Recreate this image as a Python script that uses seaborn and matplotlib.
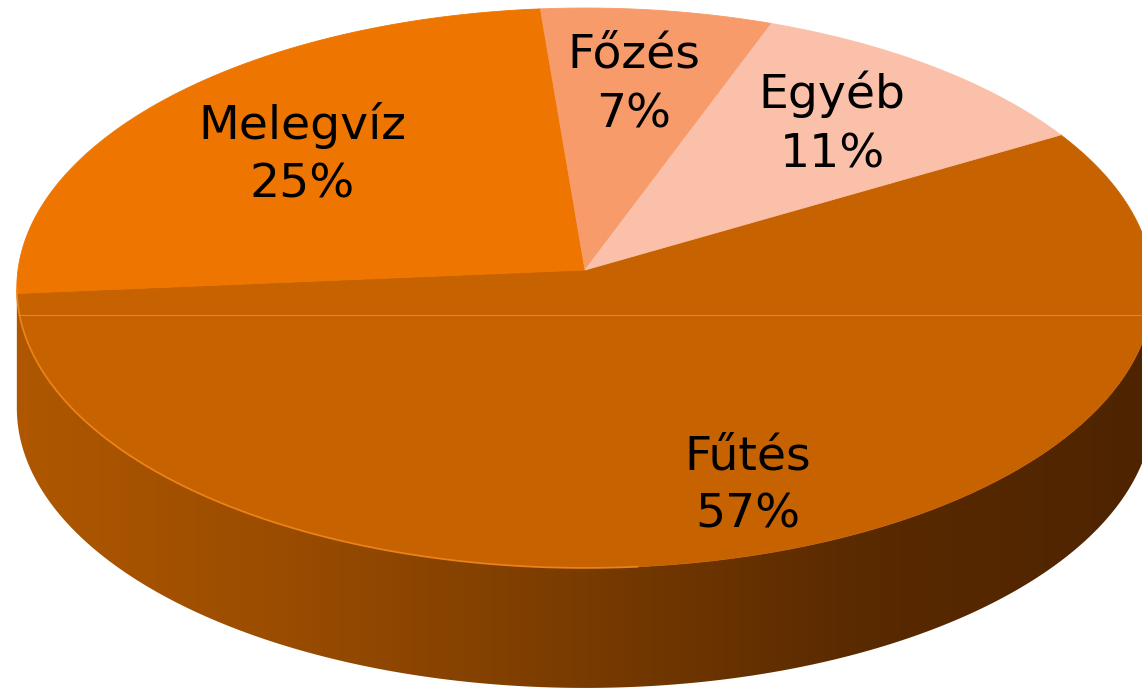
import numpy as np
import matplotlib
matplotlib.use("Agg")
import matplotlib.pyplot as plt
from matplotlib.patches import Polygon
import seaborn as sns

# data
categories = ["Fűtés", "Melegvíz", "Főzés", "Egyéb"]
values = [57, 25, 7, 11]
slice_colors = ["#C66200", "#EE7600", "#F79B6A", "#FAC0AA"]

# label placement (baselines of the two lines, pixel coords)
label_pos = [(748, 470, 527), (302, 139, 198), (634, 68, 127), (832, 108, 168)]

# pie geometry (pixels) with a little perspective
cx, cy = 585, 270
A, B, p = 567, 278.8, 0.0642
depth = 120
start_angle = 30.0

sns.set_theme(style="white")
plt.rcParams['font.family'] = ['DejaVu Sans']


def ell(phi_deg):
    t = np.radians(phi_deg)
    k = 1 + p * np.sin(t)
    return cx + A * np.cos(t) / k, cy - B * np.sin(t) / k


fig = plt.figure(figsize=(11.42, 6.89), dpi=100)
ax = fig.add_axes([0, 0, 1, 1])
ax.set_xlim(0, 1142)
ax.set_ylim(689, 0)
ax.axis("off")

# side of the cylinder
phiL = 180 + np.degrees(np.arcsin(p))
phiR = 360 - np.degrees(np.arcsin(p))
ph = np.linspace(phiL, phiR, 400)
xt, yt = ell(ph)
side = np.vstack([np.column_stack([xt, yt]),
                  np.column_stack([xt[::-1], yt[::-1] + depth])])
side_patch = Polygon(side, closed=True, facecolor="none", edgecolor="none",
                     transform=ax.transData)
ax.add_patch(side_patch)
side_cmap = sns.blend_palette(["#B05800", "#9A4C00", "#7A3C00", "#5A2A00", "#4E2400"],
                              as_cmap=True)
grad = np.linspace(0, 1, 600).reshape(1, -1)
im = ax.imshow(grad, cmap=side_cmap, extent=[0, 1142, 689, 0], aspect="auto", zorder=1)
im.set_clip_path(side_patch)

# top face wedges, clockwise from start angle
vx, vy = ell(0)[0] - A / (1 + 0), cy
vx, vy = cx, cy
angle = start_angle
wedges = []
for cat, val, col in zip(categories, values, slice_colors):
    span = val / sum(values) * 360
    phs = np.linspace(angle, angle - span, max(int(span * 3), 10))
    ax_, ay_ = ell(phs)
    pts = np.vstack([[vx, vy], np.column_stack([ax_, ay_])])
    w = Polygon(pts, closed=True, facecolor=col, edgecolor=col, lw=0.6, zorder=2)
    ax.add_patch(w)
    wedges.append(w)
    angle -= span

# faint seam across the big slice, as in the original
seam, = ax.plot([0, 1142], [315, 315], color="#E09050", lw=0.8, alpha=0.8, zorder=3)
seam.set_clip_path(wedges[0])

# light rim on the front-left edge
rx, ry = ell(np.linspace(184, 275, 200))
ax.plot(rx, ry, color="#F58A1E", lw=1.3, alpha=0.8, zorder=3)

# labels
for cat, val, (lx, y1, y2) in zip(categories, values, label_pos):
    ax.text(lx, y1, cat, ha="center", va="baseline", fontsize=34, color="black", zorder=4)
    ax.text(lx, y2, f"{val}%", ha="center", va="baseline", fontsize=34, color="black", zorder=4)

fig.savefig("out.png", dpi=100)
